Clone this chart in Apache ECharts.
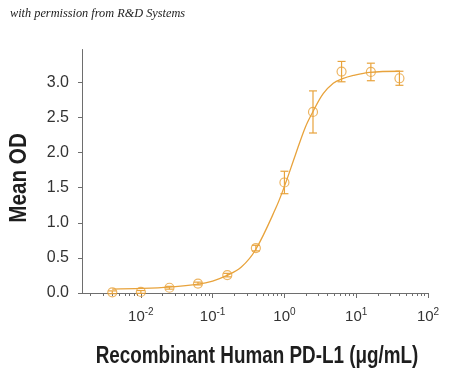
<!DOCTYPE html>
<html>
<head>
<meta charset="utf-8">
<script src="https://cdn.jsdelivr.net/npm/echarts@6/dist/echarts.min.js"></script>
<style>
html,body{margin:0;padding:0;background:#fff;}
#chart{width:450px;height:375px;}
</style>
</head>
<body>
<div id="chart"></div>
<script>
// Concentrations (µg/mL) of measured points
var concentrations = [0.004, 0.01, 0.025, 0.0625, 0.16, 0.4, 1, 2.5, 6.25, 16, 40];
// Mean OD
var meanOD = [0.01, 0.015, 0.075, 0.135, 0.255, 0.64, 1.575, 2.58, 3.155, 3.15, 3.06];
// Error (± SD)
var errorOD = [0.02, 0.02, 0.02, 0.02, 0.025, 0.04, 0.16, 0.3, 0.145, 0.125, 0.1];
// Fitted curve (log10 concentration, OD)
var curveLogConc = [-2.4, -2.0, -1.6, -1.2, -1.0, -0.8, -0.6, -0.4, -0.12, 0, 0.15, 0.29, 0.40, 0.54, 0.68, 0.80, 0.96, 1.19, 1.61];
var curveOD = [0.055, 0.065, 0.085, 0.125, 0.17, 0.25, 0.37, 0.62, 1.21, 1.52, 1.96, 2.36, 2.59, 2.84, 2.99, 3.05, 3.10, 3.145, 3.16];
// Axis ticks
var xMajorExp = [-2, -1, 0, 1, 2];
var xTickLabels = ['-2', '-1', '0', '1', '2'];
var yTicks = [0, 0.5, 1.0, 1.5, 2.0, 2.5, 3.0];
// Texts
var creditText = 'with permission from R&D Systems';
var xTitle = 'Recombinant Human PD-L1 (μg/mL)';
var yTitle = 'Mean OD';

var orange = '#E8A33C';
var axisGray = '#6e6e6e';
var sans = '"Liberation Sans", Arial, sans-serif';

var xMin = -2.82, xMax = 2;
var minorTicks = [];
for (var d = -3; d < 2; d++) {
  for (var k = 2; k <= 9; k++) {
    var v = d + Math.log10(k);
    if (v >= xMin && v <= xMax) minorTicks.push(v);
  }
}

var pointData = concentrations.map(function (c, i) { return [Math.log10(c), meanOD[i]]; });
var errData = concentrations.map(function (c, i) { return [Math.log10(c), meanOD[i] - errorOD[i], meanOD[i] + errorOD[i]]; });
var curveData = curveLogConc.map(function (x, i) { return [x, curveOD[i]]; });

var chart = echarts.init(document.getElementById('chart'), null, {renderer: 'canvas'});
chart.setOption({
  animation: false,
  title: {
    text: creditText,
    left: 10, top: 8, padding: 0,
    textStyle: {fontFamily: '"Liberation Serif", serif', fontStyle: 'italic', fontWeight: 'normal', fontSize: 12.3, color: '#222'}
  },
  graphic: [{
    type: 'text', x: 257, y: 357, scaleX: 0.82,
    style: {text: xTitle, fontFamily: sans, fontWeight: 'bold', fontSize: 23, fill: '#1e1e1e', align: 'center', verticalAlign: 'middle'}
  }, {
    type: 'text', x: 20, y: 178, rotation: Math.PI / 2, scaleX: 0.9,
    style: {text: yTitle, fontFamily: sans, fontWeight: 'bold', fontSize: 23, fill: '#1e1e1e', align: 'center', verticalAlign: 'middle'}
  }],
  grid: {left: 82, right: 22, top: 49.5, bottom: 82, outerBoundsMode: 'none', containLabel: false},
  xAxis: [{
    type: 'value', min: xMin, max: xMax,
    axisLine: {show: true, onZero: false, lineStyle: {color: axisGray, width: 1}},
    axisTick: {show: true, length: 5, customValues: xMajorExp, lineStyle: {color: axisGray}},
    axisLabel: {
      customValues: xMajorExp, margin: 14,
      formatter: function (v) {
        var i = xMajorExp.indexOf(Math.round(v));
        return '{b|10}{s|' + xTickLabels[i] + '}';
      },
      rich: {
        b: {fontFamily: sans, fontSize: 15, color: '#333'},
        s: {fontFamily: sans, fontSize: 10, color: '#333', padding: [0, 0, 9, 0]}
      }
    },
    splitLine: {show: false}
  }, {
    type: 'value', min: xMin, max: xMax, position: 'bottom',
    axisLine: {show: false, onZero: false},
    axisTick: {show: true, length: 3, customValues: minorTicks, lineStyle: {color: axisGray}},
    axisLabel: {show: false},
    splitLine: {show: false}
  }],
  yAxis: {
    type: 'value', min: 0, max: 3.47,
    axisLine: {show: true, onZero: false, lineStyle: {color: axisGray, width: 1}},
    axisTick: {show: true, length: 4, customValues: yTicks, lineStyle: {color: axisGray}},
    axisLabel: {
      customValues: yTicks, margin: 13,
      fontFamily: sans, fontSize: 16, color: '#333',
      formatter: function (v) { return v.toFixed(1); }
    },
    splitLine: {show: false}
  },
  series: [{
    type: 'line', data: curveData, smooth: 0.35, showSymbol: false,
    lineStyle: {color: orange, width: 1.3}, z: 2
  }, {
    type: 'custom', data: errData, z: 3,
    renderItem: function (params, api) {
      var x = api.value(0);
      var lo = api.coord([x, api.value(1)]);
      var hi = api.coord([x, api.value(2)]);
      var w = 4;
      var style = {stroke: orange, lineWidth: 1.2};
      return {type: 'group', children: [
        {type: 'line', shape: {x1: lo[0], y1: lo[1], x2: hi[0], y2: hi[1]}, style: style},
        {type: 'line', shape: {x1: lo[0] - w, y1: lo[1], x2: lo[0] + w, y2: lo[1]}, style: style},
        {type: 'line', shape: {x1: hi[0] - w, y1: hi[1], x2: hi[0] + w, y2: hi[1]}, style: style}
      ]};
    }
  }, {
    type: 'scatter', data: pointData, symbol: 'circle', symbolSize: 9, z: 4,
    itemStyle: {color: 'rgba(255,255,255,0)', borderColor: orange, borderWidth: 1.2}
  }]
});
</script>
</body>
</html>
